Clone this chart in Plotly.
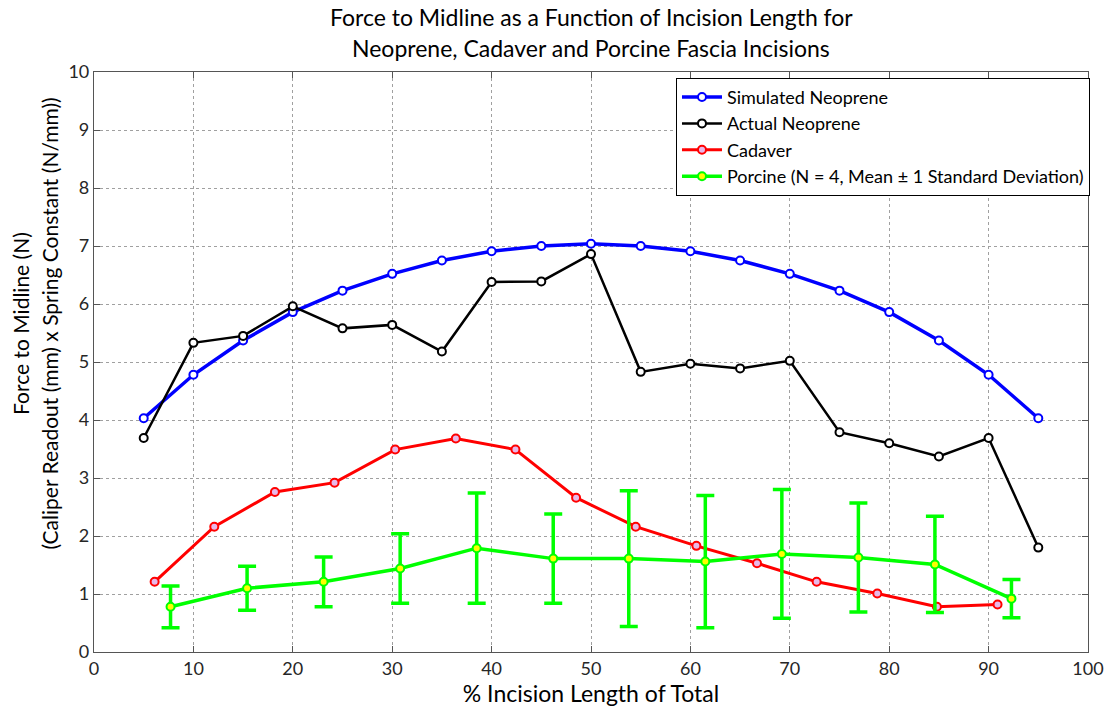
import plotly.graph_objects as go

# Incision length (% of total) sampled for each series
x_sim = [5, 10, 15, 20, 25, 30, 35, 40, 45, 50, 55, 60, 65, 70, 75, 80, 85, 90, 95]
y_sim = [4.03, 4.78, 5.37, 5.86, 6.23, 6.52, 6.75, 6.91, 7.00, 7.04, 7.00, 6.91, 6.75,
         6.52, 6.23, 5.86, 5.37, 4.78, 4.03]

x_act = [5, 10, 15, 20, 25, 30, 35, 40, 45, 50, 55, 60, 65, 70, 75, 80, 85, 90, 95]
y_act = [3.69, 5.33, 5.45, 5.96, 5.58, 5.64, 5.18, 6.38, 6.39, 6.86, 4.83, 4.97, 4.89,
         5.02, 3.79, 3.60, 3.37, 3.69, 1.80]

x_cad = [6.1, 12.1, 18.2, 24.2, 30.3, 36.4, 42.4, 48.5, 54.5, 60.6, 66.7, 72.7, 78.8, 84.8, 90.9]
y_cad = [1.21, 2.16, 2.76, 2.92, 3.49, 3.68, 3.49, 2.66, 2.16, 1.83, 1.53, 1.21, 1.01, 0.78, 0.82]

x_por = [7.7, 15.4, 23.1, 30.8, 38.5, 46.2, 53.8, 61.5, 69.2, 76.9, 84.6, 92.3]
y_por = [0.78, 1.10, 1.21, 1.44, 1.79, 1.61, 1.61, 1.56, 1.69, 1.63, 1.51, 0.92]
sd_por = [0.36, 0.38, 0.43, 0.60, 0.95, 0.77, 1.17, 1.14, 1.11, 0.94, 0.83, 0.33]

x_ticks = [0, 10, 20, 30, 40, 50, 60, 70, 80, 90, 100]
y_ticks = [0, 1, 2, 3, 4, 5, 6, 7, 8, 9, 10]

title_lines = ["Force to Midline as a Function of Incision Length for",
               "Neoprene, Cadaver and Porcine Fascia Incisions"]
ylabel_lines = ["Force to Midline (N)",
                "(Caliper Readout (mm) x Spring Constant (N/mm))"]

FONT = "Lato, 'Open Sans', sans-serif"

fig = go.Figure()

fig.add_trace(go.Scatter(
    x=x_sim, y=y_sim, mode="lines+markers", name="Simulated Neoprene",
    line=dict(color="#0000ff", width=3.5),
    marker=dict(symbol="circle", size=8, color="white", line=dict(color="#0000ff", width=2)),
))
fig.add_trace(go.Scatter(
    x=x_act, y=y_act, mode="lines+markers", name="Actual Neoprene",
    line=dict(color="#000000", width=2.5),
    marker=dict(symbol="circle", size=8, color="white", line=dict(color="#000000", width=2)),
))
fig.add_trace(go.Scatter(
    x=x_cad, y=y_cad, mode="lines+markers", name="Cadaver",
    line=dict(color="#ff0000", width=3),
    marker=dict(symbol="circle", size=8, color="#e8b8e8", line=dict(color="#ff0000", width=2)),
))
fig.add_trace(go.Scatter(
    x=x_por, y=y_por, mode="lines+markers",
    name="Porcine (N = 4, Mean \u00b1 1 Standard Deviation)",
    line=dict(color="#00ff00", width=3.5),
    marker=dict(symbol="circle", size=8, color="#ffff00", line=dict(color="#00ff00", width=2)),
    error_y=dict(type="data", array=sd_por, visible=True, color="#00ff00",
                 thickness=3.5, width=9),
))

axis_common = dict(
    showline=True, linecolor="#555555", linewidth=1.2, mirror="ticks",
    ticks="inside", ticklen=6, tickcolor="#555555",
    showgrid=True, gridcolor="#a0a0a0", griddash="dot", gridwidth=1,
    zeroline=False,
    tickfont=dict(family=FONT, size=18, color="#262626"),
)

fig.update_xaxes(
    range=[0, 100], tickvals=x_ticks, ticktext=[str(v) for v in x_ticks],
    title=dict(text="% Incision Length of Total",
               font=dict(family=FONT, size=23, color="#000000"), standoff=2),
    **axis_common,
)
fig.update_yaxes(
    range=[0, 10], tickvals=y_ticks, ticktext=[str(v) for v in y_ticks],
    **axis_common,
)

# Two-line chart title placed above the plotting area
for text, ypos in zip(title_lines, [1.0945, 1.042]):
    fig.add_annotation(
        text=text, xref="paper", yref="paper", x=0.5, y=ypos,
        xanchor="center", yanchor="middle", showarrow=False,
        font=dict(family=FONT, size=23, color="#000000"),
    )

# Two-line rotated y-axis label
for text, xpos in zip(ylabel_lines, [-0.0747, -0.0448]):
    fig.add_annotation(
        text=text, xref="paper", yref="paper", x=xpos, y=0.567,
        xanchor="center", yanchor="middle", showarrow=False, textangle=-90,
        font=dict(family=FONT, size=21, color="#000000"),
    )

fig.update_layout(
    width=1116, height=709,
    margin=dict(l=94, r=18, t=72, b=55),
    paper_bgcolor="white", plot_bgcolor="white",
    legend=dict(
        x=1.002, xanchor="right", y=0.99, yanchor="top",
        bgcolor="white", bordercolor="#000000", borderwidth=1,
        font=dict(family=FONT, size=18, color="#000000"),
        itemwidth=40, tracegroupgap=0,
    ),
    showlegend=True,
)

fig.write_html("out.html")
